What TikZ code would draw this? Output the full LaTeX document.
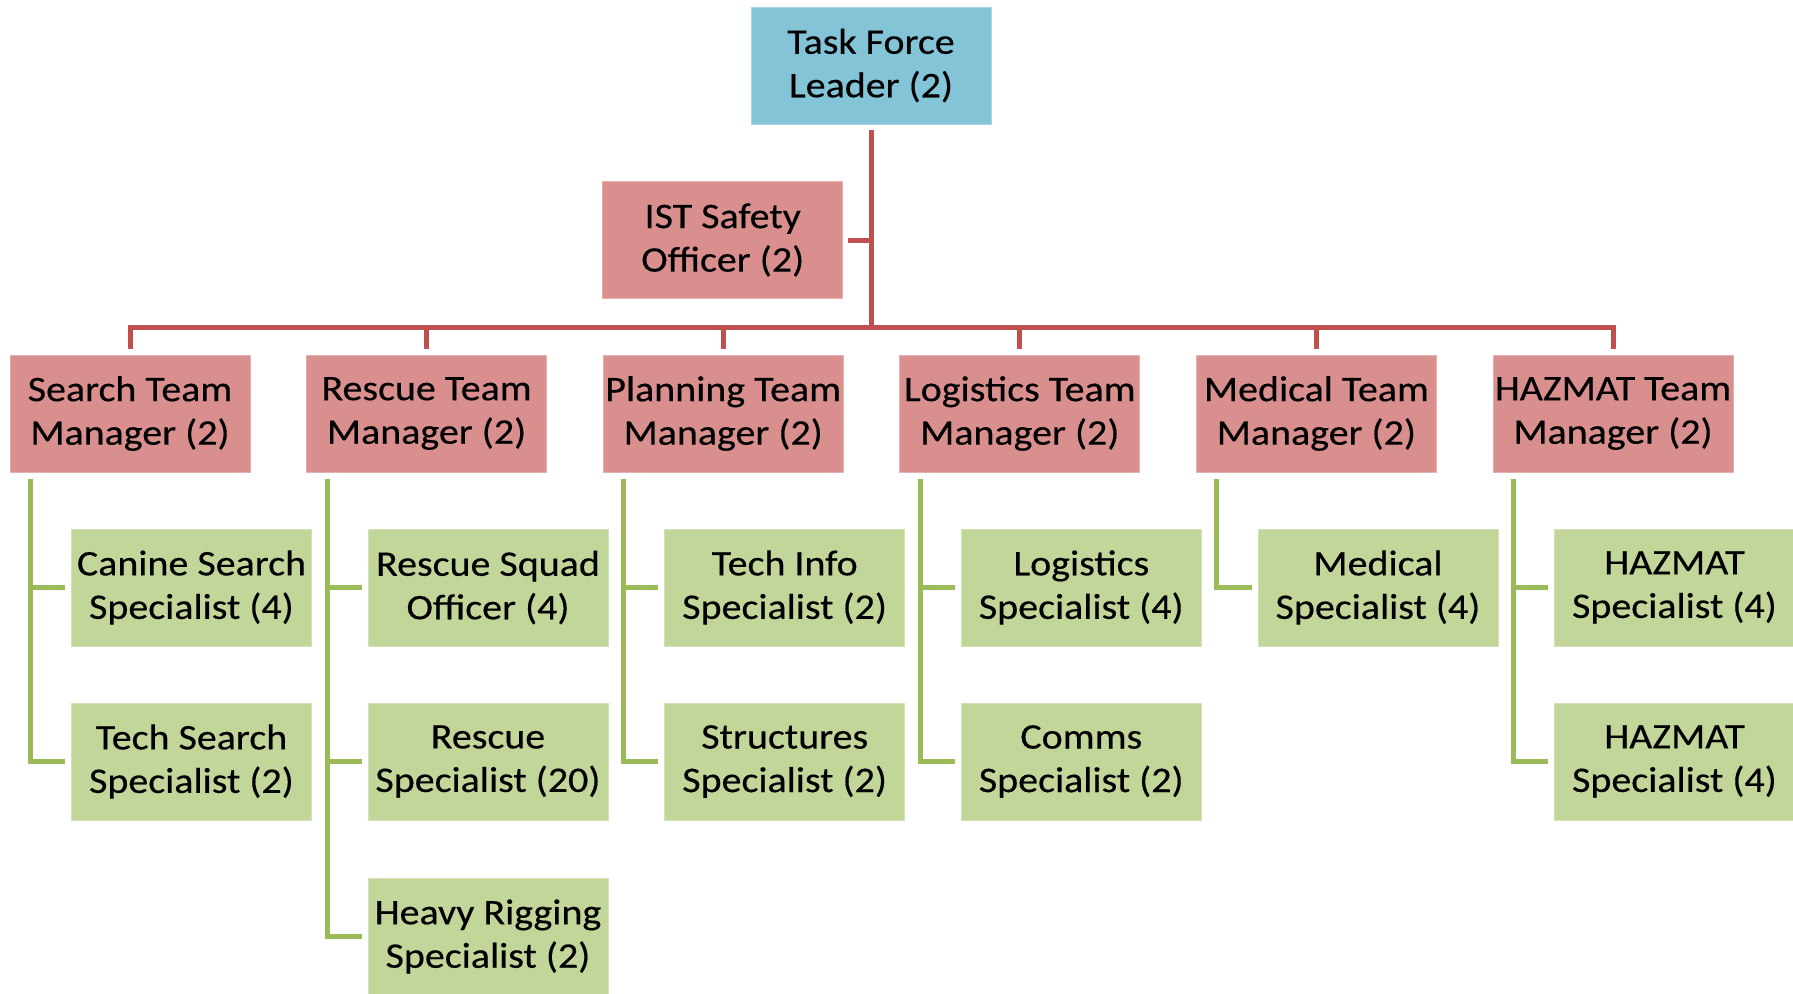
\documentclass[tikz,border=0pt]{standalone}
\usepackage{fontspec}
\setmainfont{Carlito}[FakeStretch=1.11, FakeBold=0.4]
\definecolor{leadfill}{RGB}{132,196,215}
\definecolor{mgrfill}{RGB}{217,143,141}
\definecolor{specfill}{RGB}{194,214,154}
\definecolor{redline}{RGB}{192,80,77}
\definecolor{greenline}{RGB}{155,187,89}
\tikzset{
  unit/.style={minimum width=240pt, minimum height=117pt, inner sep=0pt,
    align=center, font=\fontsize{36}{43.5}\selectfont, line width=1pt},
  leadbox/.style={unit, fill=leadfill, draw=leadfill!70!white},
  mgrbox/.style={unit, fill=mgrfill, draw=mgrfill!70!white},
  specbox/.style={unit, fill=specfill, draw=specfill!70!white},
  rl/.style={draw=redline, line width=5pt},
  gl/.style={draw=greenline, line width=5pt},
}
\begin{document}
\begin{tikzpicture}[x=1pt,y=-1pt]
\useasboundingbox (0,0) rectangle (1793,993);

% command line
\node[leadbox] (tfl) at (871,65.5) {Task Force\\Leader (2)};
\node[mgrbox] (safe) at (722.7,240) {IST Safety\\Officer (2)};
\coordinate (bar) at (0,327);

% team managers
\node[mgrbox] (m1) at (130,413.5) {Search Team\\Manager (2)};
\node[mgrbox] (m2) at (426.6,413.5) {Rescue Team\\Manager (2)};
\node[mgrbox] (m3) at (723.2,413.5) {Planning Team\\Manager (2)};
\node[mgrbox] (m4) at (1019.8,413.5) {Logistics Team\\Manager (2)};
\node[mgrbox] (m5) at (1316.4,413.5) {Medical Team\\Manager (2)};
\node[mgrbox] (m6) at (1613,413.5) {HAZMAT Team\\Manager (2)};

% specialists
\node[specbox] (s11) at (191.5,587.5) {Canine Search\\Specialist (4)};
\node[specbox] (s12) at (191.5,761.5) {Tech Search\\Specialist (2)};
\node[specbox] (s21) at (488,587.5) {Rescue Squad\\Officer (4)};
\node[specbox] (s22) at (488,761.5) {Rescue\\Specialist (20)};
\node[specbox] (s23) at (488,936.5) {Heavy Rigging\\Specialist (2)};
\node[specbox] (s31) at (784.7,587.5) {Tech Info\\Specialist (2)};
\node[specbox] (s32) at (784.7,761.5) {Structures\\Specialist (2)};
\node[specbox] (s41) at (1081.3,587.5) {Logistics\\Specialist (4)};
\node[specbox] (s42) at (1081.3,761.5) {Comms\\Specialist (2)};
\node[specbox] (s51) at (1378,587.5) {Medical\\Specialist (4)};
\node[specbox] (s61) at (1674.5,587.5) {HAZMAT\\Specialist (4)};
\node[specbox] (s62) at (1674.5,761.5) {HAZMAT\\Specialist (4)};

% red connectors
\draw[rl] ([yshift=-5pt]tfl.south) -- (tfl.south |- bar);
\draw[rl] ([xshift=5pt]safe.east) -- (safe.east -| tfl.south);
\draw[rl] ([yshift=6pt]m1.north) -- (m1.north |- bar) -- (m6.north |- bar) -- ([yshift=6pt]m6.north);
\foreach \m in {m2,m3,m4,m5}
  \draw[rl] (\m.north |- bar) -- ([yshift=6pt]\m.north);

% green connectors
\foreach \m/\s in {m1/s11,m1/s12,m2/s21,m2/s22,m2/s23,m3/s31,m3/s32,m4/s41,m4/s42,m5/s51,m6/s61,m6/s62}
  \draw[gl] ([xshift=21pt,yshift=-6pt]\m.south west) |- ([xshift=-6pt]\s.west);
\end{tikzpicture}
\end{document}
